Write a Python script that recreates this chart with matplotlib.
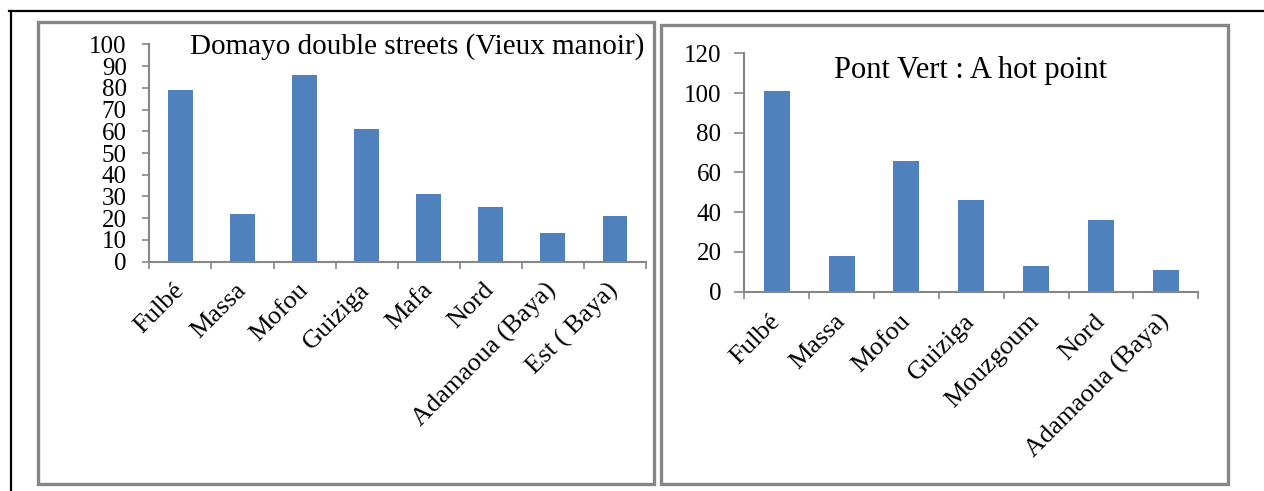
"""Deux histogrammes : groupes ethniques à Domayo et au Pont Vert."""
import matplotlib
matplotlib.use("Agg")
import matplotlib.pyplot as plt
import numpy as np
from matplotlib.lines import Line2D
from matplotlib.patches import Rectangle

# Domayo double streets (Vieux manoir)
groupes_domayo = ["Fulbé", "Massa", "Mofou", "Guiziga", "Mafa", "Nord",
                  "Adamaoua (Baya)", "Est ( Baya)"]
effectifs_domayo = [79, 22, 86, 61, 31, 25, 13, 21]

# Pont Vert : A hot point
groupes_pont = ["Fulbé", "Massa", "Mofou", "Guiziga", "Mouzgoum", "Nord",
                "Adamaoua (Baya)"]
effectifs_pont = [101, 18, 66, 46, 13, 36, 11]

BLEU = "#4F81BD"
GRIS = "#868686"
W, H = 1264, 491

plt.rcParams["font.family"] = ["Liberation Serif", "DejaVu Serif"]


def fx(px):
    return px / W


def fy(py):
    return 1 - py / H


def barres(ax, noms, vals, ymax, pas, pad_x, pad_y, long_y):
    x = np.arange(len(noms))
    ax.bar(x, vals, width=0.4, color=BLEU, zorder=2)
    ax.set_xlim(-0.5, len(noms) - 0.5)
    ax.set_ylim(0, ymax)
    ax.set_yticks(np.arange(0, ymax + 1, pas))
    ax.set_xticks(x)
    ax.set_xticklabels(noms, rotation=45, ha="right", va="center",
                       rotation_mode="anchor")
    ax.set_xticks(np.arange(-0.5, len(noms)), minor=True)
    ax.tick_params(axis="x", which="major", length=0, pad=pad_x, labelsize=19)
    ax.tick_params(axis="x", which="minor", length=5, width=1.2, color=GRIS)
    ax.tick_params(axis="y", length=long_y, width=1.2, color=GRIS,
                   pad=pad_y, labelsize=18)
    for s in ("top", "right"):
        ax.spines[s].set_visible(False)
    for s in ("left", "bottom"):
        ax.spines[s].set_color(GRIS)
        ax.spines[s].set_linewidth(1.5)


fig = plt.figure(figsize=(W / 100, H / 100), dpi=100)

# cadres gris des deux graphiques + traits noirs de la page
for x0, y0, x1, y1 in [(38, 22, 654, 484), (661, 25, 1228, 484)]:
    fig.add_artist(Rectangle((fx(x0), fy(y1)), fx(x1) - fx(x0), fy(y0) - fy(y1),
                             transform=fig.transFigure, fill=False,
                             ec=GRIS, lw=2.4))
fig.add_artist(Line2D([fx(9), 1], [fy(11), fy(11)], color="black", lw=1.6))
fig.add_artist(Line2D([fx(11), fx(11)], [fy(11), 0], color="black", lw=1.6))

ax1 = fig.add_axes([fx(149.4), fy(261.7), fx(646) - fx(149.4), fy(44.3) - fy(261.7)])
barres(ax1, groupes_domayo, effectifs_domayo, 100, 10, 18, 11, 5.3)
fig.text(fx(644), fy(53.5), "Domayo double streets (Vieux manoir)",
         ha="right", va="baseline", fontsize=21)

ax2 = fig.add_axes([fx(744.3), fy(291.7), fx(1198.3) - fx(744.3), fy(53.3) - fy(291.7)])
barres(ax2, groupes_pont, effectifs_pont, 120, 20, 19, 9.5, 7)
fig.text(fx(971), fy(78.3), "Pont Vert : A hot point",
         ha="center", va="baseline", fontsize=22)

fig.savefig("out.png", dpi=100)
